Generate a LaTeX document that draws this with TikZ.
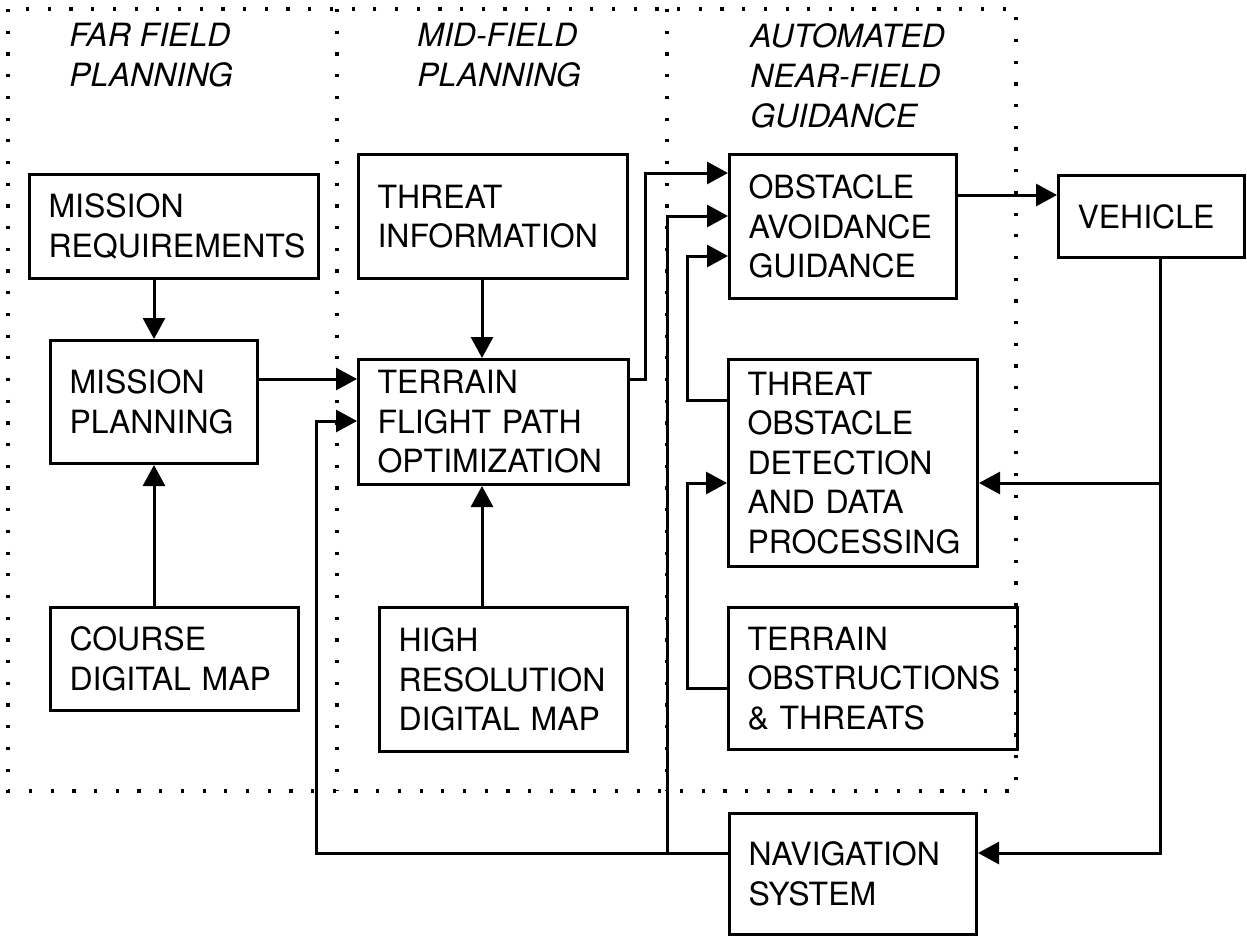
\documentclass[tikz,border=0pt]{standalone}
\usepackage{fontspec}
\setmainfont{TeX Gyre Heros}
\usetikzlibrary{arrows.meta}

\tikzset{
  block/.style={draw, line width=1.5pt, align=left, anchor=north west,
    inner xsep=9.5pt, inner ysep=0pt, font=\fontsize{16}{19.75}\selectfont},
  zonetitle/.style={anchor=north west, align=left, inner sep=0pt,
    font=\fontsize{16}{20}\selectfont\itshape},
  zone/.style={line width=1.6pt, dash pattern=on 1.6pt off 9.25pt},
  flow/.style={line width=1.5pt, -{Triangle[length=10.5pt,width=11pt]}},
}

\begin{document}
\begin{tikzpicture}[x=0.5pt, y=-0.5pt]
    \useasboundingbox (0,0) rectangle (1247,937);

    % dotted planning zones
    \draw[zone] (8,9) rectangle (1016,791);
    \draw[zone] (337,9) -- (337,791);
    \draw[zone] (667,9) -- (667,791);

    \node[zonetitle] (farttl) at (69,23) {FAR FIELD\\PLANNING};
    \node[zonetitle] (midttl) at (417,23) {MID-FIELD\\PLANNING};
    \node[zonetitle] (autottl) at (750,23) {AUTOMATED\\NEAR-FIELD\\GUIDANCE};

    % blocks
    \node[block, text width=125.5pt, minimum height=52pt] (mreq) at (28,173) {MISSION\\REQUIREMENTS};
    \node[block, text width=84.5pt, minimum height=61.5pt] (mplan) at (49,339) {MISSION\\PLANNING};
    \node[block, text width=105pt, minimum height=51.5pt] (cmap) at (49,606) {COURSE\\DIGITAL MAP};
    \node[block, text width=115.5pt, minimum height=62pt] (tinfo) at (357,153) {THREAT\\INFORMATION};
    \node[block, text width=116pt, minimum height=62.5pt] (tfpo) at (357,358) {TERRAIN\\FLIGHT PATH\\OPTIMIZATION};
    \node[block, text width=105pt, minimum height=72pt] (hmap) at (378,606) {HIGH\\RESOLUTION\\DIGITAL MAP};
    \node[block, text width=94.5pt, minimum height=72pt] (oag) at (728,153) {OBSTACLE\\AVOIDANCE\\GUIDANCE};
    \node[block, text width=74pt, minimum height=41pt] (veh) at (1057,174) {VEHICLE};
    \node[block, text width=105.5pt, minimum height=103.5pt] (tod) at (727,358) {THREAT\\OBSTACLE\\DETECTION\\AND DATA\\PROCESSING};
    \node[block, text width=125.5pt, minimum height=71pt] (tot) at (727,606) {TERRAIN\\OBSTRUCTIONS\\\& THREATS};
    \node[block, text width=104.5pt, minimum height=60.5pt] (nav) at (728,812) {NAVIGATION\\SYSTEM};

    % rows and columns of the connectors
    \coordinate (rowoa1) at (0,173);
    \coordinate (rowveh) at (0,195);
    \coordinate (rowoa2) at (0,216);
    \coordinate (rowoa3) at (0,256);
    \coordinate (rowplan) at (0,379);
    \coordinate (rowtod) at (0,400);
    \coordinate (rownav) at (0,421);
    \coordinate (rowdet) at (0,483);
    \coordinate (rowobs) at (0,688);
    \coordinate (rowbus) at (0,853);
    \coordinate (colleft) at (316,0);
    \coordinate (colthreat) at (482,0);
    \coordinate (colup) at (645,0);
    \coordinate (colbus) at (667,0);
    \coordinate (colfb) at (687,0);
    \coordinate (colveh) at (1160,0);

    % connectors
    \draw[flow] (mreq.south -| mplan.north) -- (mplan.north);
    \draw[flow] (cmap.north -| mplan.south) -- (mplan.south);
    \draw[flow] (mplan.east |- rowplan) -- (tfpo.west |- rowplan);
    \draw[flow] (tinfo.south -| colthreat) -- (tfpo.north -| colthreat);
    \draw[flow] (hmap.north -| colthreat) -- (tfpo.south -| colthreat);
    \draw[flow] (tfpo.east |- rowplan) -| (colup |- rowoa1) -- (oag.west |- rowoa1);
    \draw[flow] (tod.west |- rowtod) -| (colfb |- rowoa3) -- (oag.west |- rowoa3);
    \draw[flow] (oag.east |- rowveh) -- (veh.west |- rowveh);
    \draw[flow] (veh.south -| colveh) |- (nav.east |- rowbus);
    \draw[flow] (colveh |- rowdet) -- (tod.east |- rowdet);
    \draw[flow] (tot.west |- rowobs) -| (colfb |- rowdet) -- (tod.west |- rowdet);
    \draw[flow] (nav.west |- rowbus) -| (colleft |- rownav) -- (tfpo.west |- rownav);
    \draw[flow] (colbus |- rowbus) -- (colbus |- rowoa2) -- (oag.west |- rowoa2);
\end{tikzpicture}
\end{document}
